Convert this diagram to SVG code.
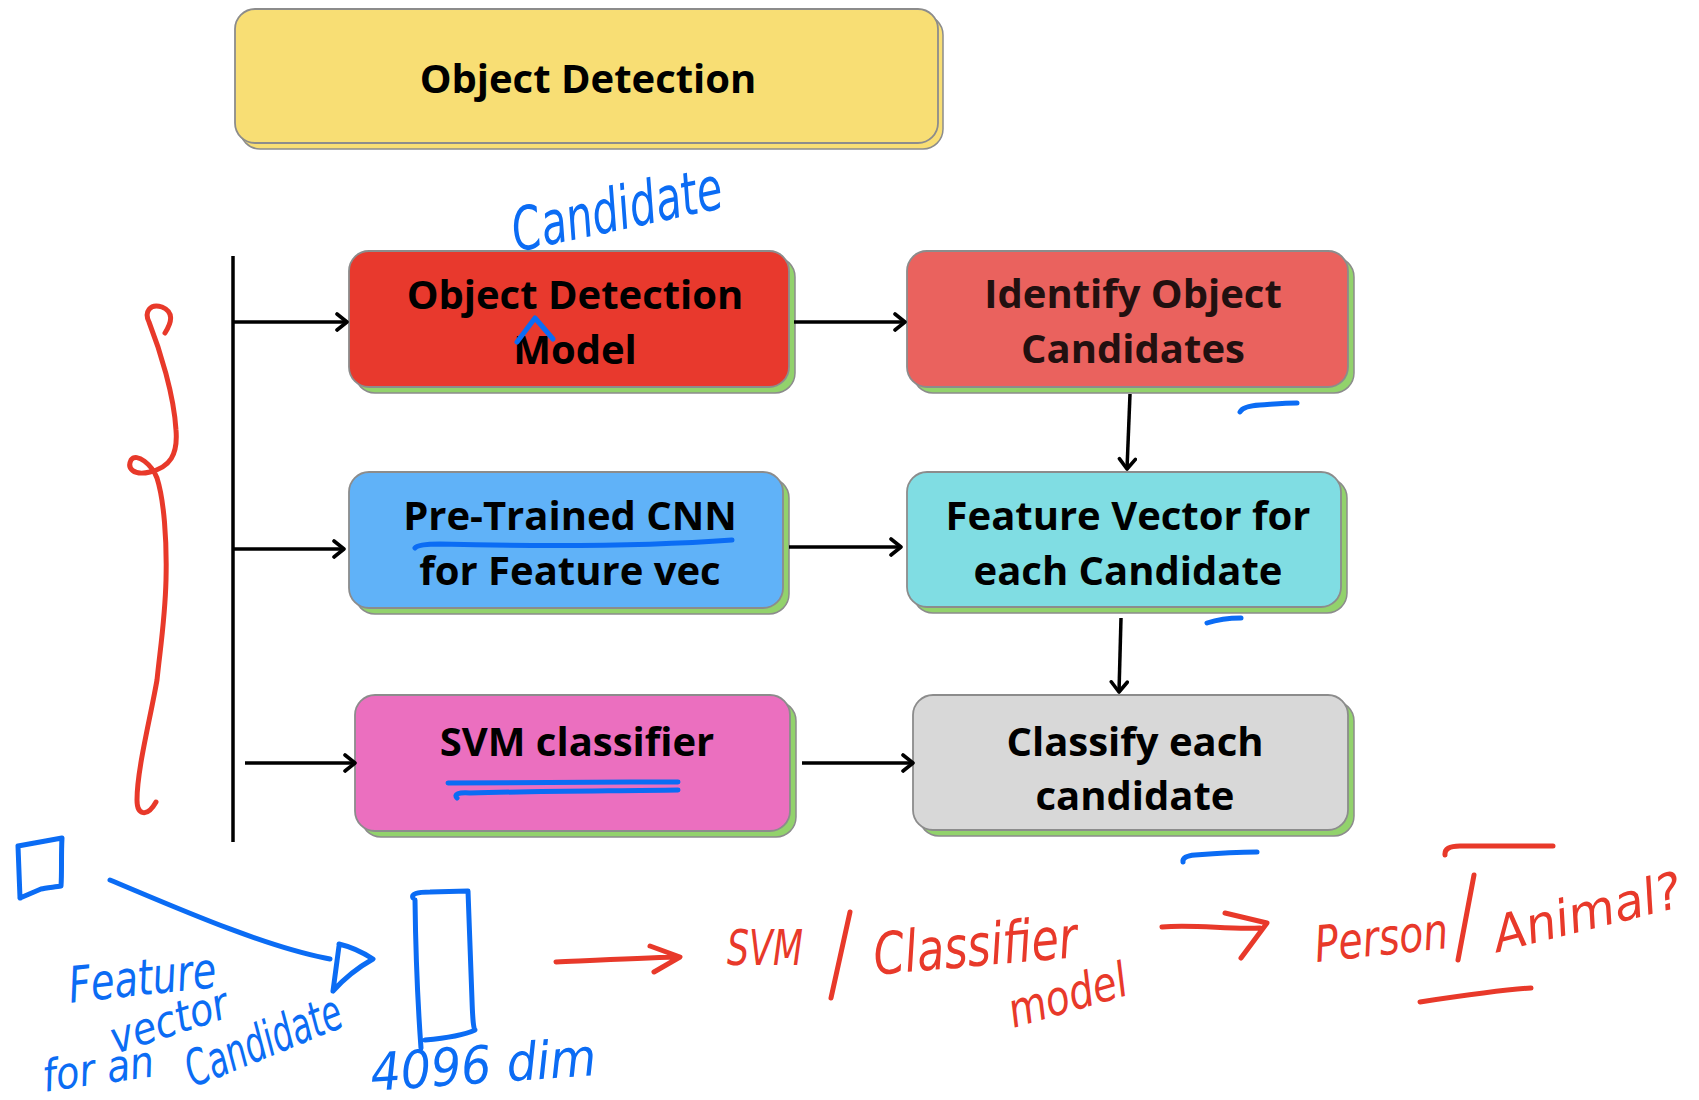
<svg xmlns="http://www.w3.org/2000/svg" width="1699" height="1100" viewBox="0 0 1699 1100">
  <defs>
    <marker id="chev" markerUnits="userSpaceOnUse" markerWidth="16" markerHeight="20" viewBox="0 0 16 20" refX="13" refY="10" orient="auto">
      <path d="M3,2 L13,10 L3,18" fill="none" stroke="#000" stroke-width="3.6" stroke-linecap="round" stroke-linejoin="round"/>
    </marker>
    <style>
      .shadow { fill: #92d26c; stroke: #8c8c8c; stroke-width: 1.5; }
      .box { stroke: #8c8c8c; stroke-width: 1.8; }
      .label { font-family: "Open Sans", "Noto Sans", sans-serif; font-weight: 700; font-size: 40px; fill: #000; text-anchor: middle; }
      .conn { stroke: #000; stroke-width: 3.5; fill: none; }
      .ink-blue { stroke: #0b6cf4; stroke-width: 5; fill: none; stroke-linecap: round; stroke-linejoin: round; }
      .ink-red { stroke: #e8392a; stroke-width: 5; fill: none; stroke-linecap: round; stroke-linejoin: round; }
      .hand-blue { font-family: "DejaVu Sans", sans-serif; font-style: italic; fill: #0b6cf4; }
      .hand-red { font-family: "DejaVu Sans", sans-serif; font-style: italic; fill: #e8392a; }
    </style>
  </defs>

  <rect width="1699" height="1100" fill="#ffffff"/>

  <!-- title -->
  <g id="object-detection">
    <rect x="240" y="15" width="703" height="134" rx="20" fill="#f8de74" stroke="#8c8c8c" stroke-width="1.5"/>
    <rect x="235" y="9" width="703" height="134" rx="20" class="box" fill="#f8de74"/>
    <text x="588" y="93" class="label">Object Detection</text>
  </g>

  <!-- left column -->
  <g id="detection-model">
    <rect x="355" y="257" width="440" height="136" rx="20" class="shadow"/>
    <rect x="349" y="251" width="440" height="136" rx="20" class="box" fill="#e8392d"/>
    <text x="575" y="309" class="label">Object Detection</text>
    <text x="575" y="364" class="label">Model</text>
  </g>

  <g id="pretrained-cnn">
    <rect x="355" y="478" width="434" height="136" rx="20" class="shadow"/>
    <rect x="349" y="472" width="434" height="136" rx="20" class="box" fill="#60b2f8"/>
    <text x="570" y="530" class="label">Pre-Trained CNN</text>
    <text x="570" y="585" class="label">for Feature vec</text>
  </g>

  <g id="svm-classifier">
    <rect x="361" y="701" width="435" height="136" rx="20" class="shadow"/>
    <rect x="355" y="695" width="435" height="136" rx="20" class="box" fill="#eb6fbf"/>
    <text x="577" y="756" class="label">SVM classifier</text>
  </g>

  <!-- right column -->
  <g id="object-candidates">
    <rect x="913" y="257" width="441" height="136" rx="20" class="shadow"/>
    <rect x="907" y="251" width="441" height="136" rx="20" class="box" fill="#ea625e"/>
    <text x="1133" y="308" class="label" style="fill:#221010">Identify Object</text>
    <text x="1133" y="363" class="label" style="fill:#221010">Candidates</text>
  </g>

  <g id="feature-vector">
    <rect x="913" y="478" width="434" height="135" rx="20" class="shadow"/>
    <rect x="907" y="472" width="434" height="135" rx="20" class="box" fill="#80dde3"/>
    <text x="1128" y="530" class="label">Feature Vector for</text>
    <text x="1128" y="585" class="label">each Candidate</text>
  </g>

  <g id="classify-candidate">
    <rect x="919" y="701" width="435" height="135" rx="20" class="shadow"/>
    <rect x="913" y="695" width="435" height="135" rx="20" class="box" fill="#d8d8d8"/>
    <text x="1135" y="756" class="label">Classify each</text>
    <text x="1135" y="810" class="label">candidate</text>
  </g>

  <!-- connectors -->
  <g id="connectors">
    <line x1="233" y1="256" x2="233" y2="842" class="conn"/>
    <line x1="233" y1="322" x2="347" y2="322" class="conn" marker-end="url(#chev)"/>
    <line x1="233" y1="549" x2="344" y2="549" class="conn" marker-end="url(#chev)"/>
    <line x1="245" y1="763" x2="355" y2="763" class="conn" marker-end="url(#chev)"/>
    <line x1="794" y1="322" x2="905" y2="322" class="conn" marker-end="url(#chev)"/>
    <line x1="789" y1="547" x2="901" y2="547" class="conn" marker-end="url(#chev)"/>
    <line x1="802" y1="763" x2="913" y2="763" class="conn" marker-end="url(#chev)"/>
    <line x1="1130" y1="394" x2="1127" y2="469" class="conn" marker-end="url(#chev)"/>
    <line x1="1121" y1="618" x2="1119" y2="692" class="conn" marker-end="url(#chev)"/>
  </g>

  <!-- blue pen notes -->
  <g id="notes-blue">
    <text x="618" y="230" class="hand-blue" font-size="60" text-anchor="middle" textLength="214" lengthAdjust="spacingAndGlyphs" transform="rotate(-12 618 215)">Candidate</text>
    <path class="ink-blue" d="M517,342 L535,318 L553,339"/>
    <path class="ink-blue" d="M415,548 Q418,544 440,544 C560,547 650,546 732,540"/>
    <path class="ink-blue" d="M448,783 C520,782 600,782 678,782"/>
    <path class="ink-blue" d="M457,798 Q452,792 470,793 C540,791 610,791 678,790"/>
    <path class="ink-blue" d="M1240,412 Q1243,406 1260,405 C1275,404 1285,403 1297,403"/>
    <path class="ink-blue" d="M1207,623 Q1222,618 1241,618"/>
    <path class="ink-blue" d="M1183,862 Q1182,856 1195,855 C1220,853 1240,852 1257,852"/>
    <!-- small patch and its vector -->
    <path class="ink-blue" d="M18,846 L62,838 C61,855 62,872 61,886 C55,887 45,888 41,889 L20,898 M18,846 L20,898"/>
    <path class="ink-blue" d="M110,880 C170,905 260,945 325,958 L330,959"/>
    <path class="ink-blue" d="M339,946 L333,991 M339,944 Q356,948 373,959 Q350,972 333,991"/>
    <path class="ink-blue" d="M413,898 Q410,892 430,892 L468,891 Q470,950 472,1000 Q473,1030 475,1030 Q460,1037 425,1040 M415,900 Q416,980 421,1048"/>
    <text x="142" y="995" class="hand-blue" font-size="50" text-anchor="middle" textLength="148" lengthAdjust="spacingAndGlyphs" transform="rotate(-6 142 975)">Feature</text>
    <text x="169" y="1036" class="hand-blue" font-size="44" text-anchor="middle" textLength="122" lengthAdjust="spacingAndGlyphs" transform="rotate(-18 169 1021)">vector</text>
    <text x="98" y="1084" class="hand-blue" font-size="44" text-anchor="middle" textLength="112" lengthAdjust="spacingAndGlyphs" transform="rotate(-8 98 1068)">for an</text>
    <text x="263" y="1058" class="hand-blue" font-size="50" text-anchor="middle" textLength="165" lengthAdjust="spacingAndGlyphs" transform="rotate(-22 263 1040)">Candidate</text>
    <text x="483" y="1083" class="hand-blue" font-size="52" text-anchor="middle" textLength="226" lengthAdjust="spacingAndGlyphs" transform="rotate(-4 483 1062)">4096 dim</text>
  </g>

  <!-- red pen notes -->
  <g id="notes-red">
    <path class="ink-red" d="M165,333 C172,322 174,312 162,307 C150,303 144,312 149,322 C160,350 174,395 176,430 C178,455 170,467 150,472 C133,476 127,468 131,460 C137,452 152,465 157,478 C164,500 167,540 166,580 C165,620 160,650 157,680 C150,720 137,770 137,800 C137,815 147,818 156,802"/>
    <path class="ink-red" d="M556,962 C600,960 640,958 677,957 M650,946 L680,957 L654,972"/>
    <text x="765" y="965" class="hand-red" font-size="50" text-anchor="middle" textLength="76" lengthAdjust="spacingAndGlyphs">SVM</text>
    <path class="ink-red" d="M831,998 L850,912"/>
    <text x="975" y="966" class="hand-red" font-size="58" text-anchor="middle" textLength="204" lengthAdjust="spacingAndGlyphs" transform="rotate(-5 975 945)">Classifier</text>
    <text x="1066" y="1012" class="hand-red" font-size="48" text-anchor="middle" textLength="122" lengthAdjust="spacingAndGlyphs" transform="rotate(-16 1066 990)">model</text>
    <path class="ink-red" d="M1162,927 C1195,924 1230,930 1260,928 M1225,913 L1267,923 L1241,958"/>
    <path class="ink-red" d="M1445,855 Q1444,846 1460,846 L1553,846"/>
    <text x="1381" y="955" class="hand-red" font-size="50" text-anchor="middle" textLength="134" lengthAdjust="spacingAndGlyphs" transform="rotate(-6 1381 935)">Person</text>
    <path class="ink-red" d="M1458,960 L1474,875"/>
    <text x="1584" y="930" class="hand-red" font-size="50" text-anchor="middle" textLength="192" lengthAdjust="spacingAndGlyphs" transform="rotate(-14 1584 900)">Animal?</text>
    <path class="ink-red" d="M1420,1002 C1460,996 1500,990 1531,988"/>
  </g>
</svg>
